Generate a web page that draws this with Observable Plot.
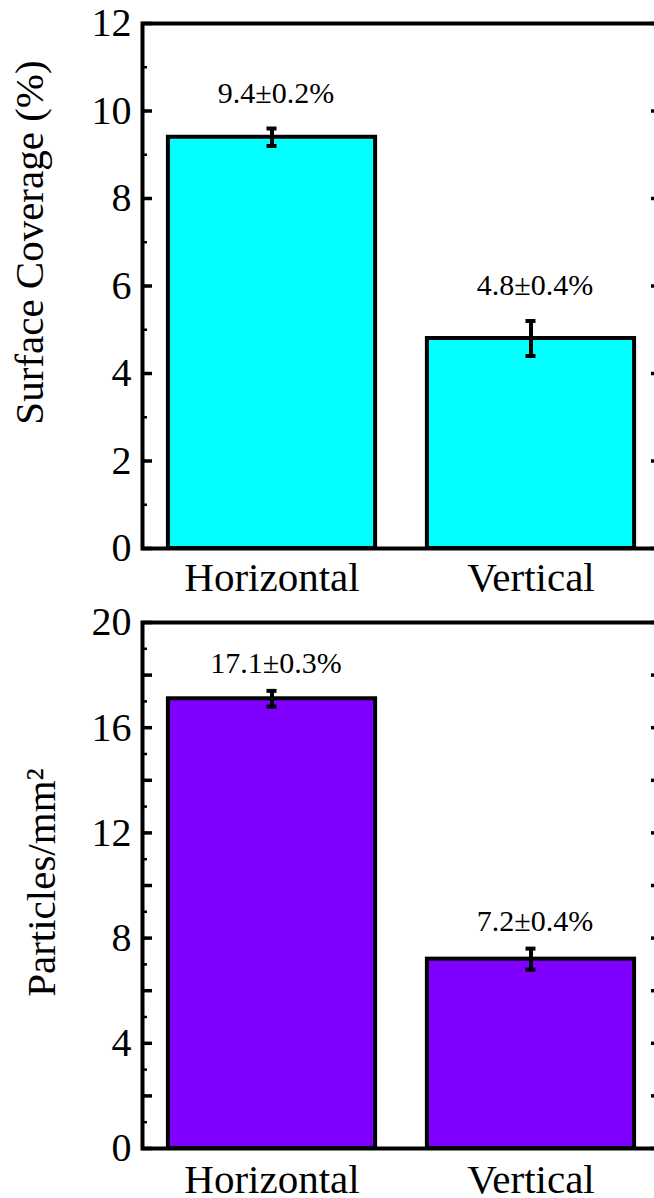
<!DOCTYPE html>
<html>
<head>
<meta charset="utf-8">
<script src="https://cdn.jsdelivr.net/npm/d3@7"></script>
<script src="https://cdn.jsdelivr.net/npm/@observablehq/plot@0.6"></script>
<style>
  html, body { margin: 0; padding: 0; background: white; overflow: hidden; }
  #wrap { width: 654px; height: 1198px; overflow: hidden; }
  #wrap svg { display: block; overflow: hidden; }
</style>
</head>
<body>
<div id="wrap"></div>
<script>
// ---- data ----
const categories = ["Horizontal", "Vertical"];
const coverageValues = [9.4, 4.8];
const coverageErrors = [0.2, 0.4];
const coverageLabels = ["9.4±0.2%", "4.8±0.4%"];
const coverageTicks = [0, 2, 4, 6, 8, 10, 12];

const particleValues = [17.1, 7.2];
const particleErrors = [0.3, 0.4];
const particleLabels = ["17.1±0.3%", "7.2±0.4%"];
const particleTicks = [0, 4, 8, 12, 16, 20];

const FONT = "Liberation Serif, Times New Roman, serif";

function panel({values, errors, labels, fill, domain, labelTicks, majorStep, title, labelDy, marginBottom, xPad, titleDx, titleDy}) {
  const data = categories.map((c, i) => ({x: i + 1, c, v: values[i], e: errors[i], label: labels[i]}));
  const majors = d3.range(domain[0], domain[1] + 1e-9, majorStep);
  const minors = d3.range(domain[0], domain[1] + 1e-9, 1);
  const pxPerUnit = 518 / 2; // x range width / domain width
  const cap = 5 / pxPerUnit;
  return Plot.plot({
    width: 654,
    height: 599,
    marginLeft: 142,
    marginRight: -6,
    marginTop: 23,
    marginBottom,
    x: {domain: [0.5, 2.5], label: null},
    y: {domain, label: null},
    style: {fontFamily: FONT, color: "black", background: "white"},
    marks: [
      Plot.rectY(data, {x1: d => d.x - 0.4, x2: d => d.x + 0.4, y1: 0, y2: "v", fill, stroke: "black", strokeWidth: 4}),
      Plot.ruleX(data, {x: "x", y1: d => d.v - d.e, y2: d => d.v + d.e, stroke: "black", strokeWidth: 4}),
      Plot.ruleY(data, {y: d => d.v + d.e, x1: d => d.x - cap, x2: d => d.x + cap, stroke: "black", strokeWidth: 4}),
      Plot.ruleY(data, {y: d => d.v - d.e, x1: d => d.x - cap, x2: d => d.x + cap, stroke: "black", strokeWidth: 4}),
      Plot.text(data, {x: "x", y: d => d.v + d.e, text: "label", dy: labelDy, dx: 4, lineAnchor: "bottom", textAnchor: "middle", fontSize: 30, fontFamily: FONT, fill: "black"}),
      Plot.axisY({anchor: "left", ticks: minors, tickSize: -5, tickFormat: () => "", label: null, strokeWidth: 2.5}),
      Plot.axisY({anchor: "left", ticks: majors, tickSize: -10, tickFormat: () => "", label: null, strokeWidth: 3.5}),
      Plot.axisY({anchor: "right", ticks: minors, tickSize: -5, tickFormat: () => "", label: null, strokeWidth: 2.5}),
      Plot.axisY({anchor: "right", ticks: majors, tickSize: -10, tickFormat: () => "", label: null, strokeWidth: 3.5}),
      Plot.axisY({anchor: "left", ticks: labelTicks, tickSize: 0, tickPadding: 11, fontSize: 40, fontFamily: FONT, label: null, tickFormat: d => String(d)}),
      Plot.axisX({ticks: [1, 2], tickFormat: i => categories[i - 1], tickSize: 0, tickPadding: xPad, fontSize: 41, fontFamily: FONT, label: null}),
      Plot.text([title], {frameAnchor: "left", rotate: -90, dx: titleDx, dy: titleDy, lineAnchor: "bottom", textAnchor: "middle", fontSize: 41, fontFamily: FONT, fill: "black"}),
      Plot.frame({stroke: "black", strokeWidth: 4})
    ]
  });
}

const wrap = document.getElementById("wrap");
wrap.append(panel({
  values: coverageValues, errors: coverageErrors, labels: coverageLabels,
  fill: "#00FFFF", domain: [0, 12], labelTicks: coverageTicks, majorStep: 2,
  title: "Surface Coverage (%)", labelDy: -26, marginBottom: 51, xPad: 13,
  titleDx: -100, titleDy: -43.5
}));
wrap.append(panel({
  values: particleValues, errors: particleErrors, labels: particleLabels,
  fill: "#8000FF", domain: [0, 20], labelTicks: particleTicks, majorStep: 2,
  title: "Particles/mm²", labelDy: -18, marginBottom: 50, xPad: 15,
  titleDx: -88, titleDy: -3
}));
</script>
</body>
</html>
